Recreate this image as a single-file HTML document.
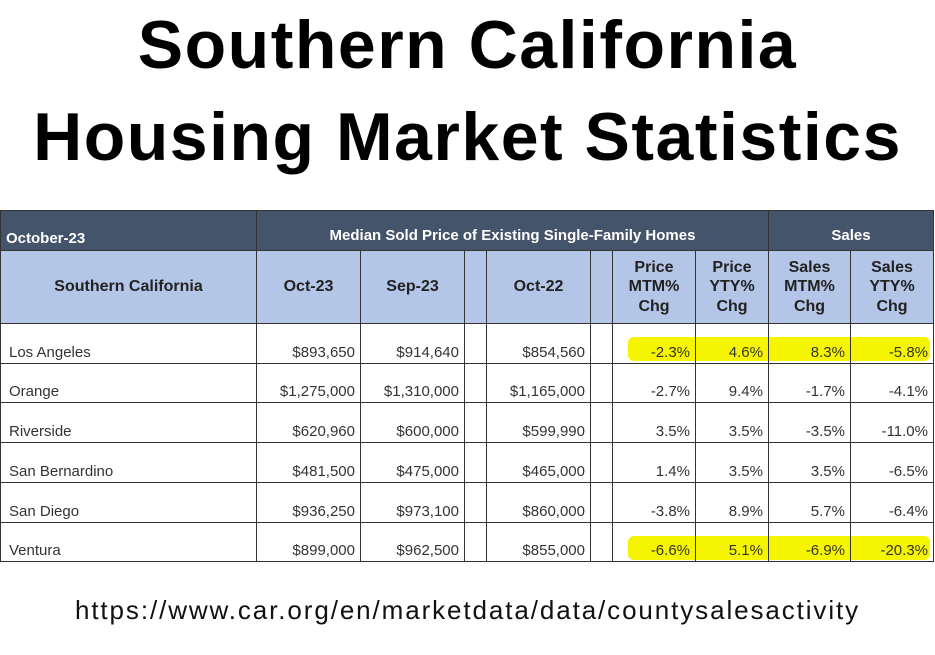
<!DOCTYPE html>
<html><head><meta charset="utf-8"><style>
body{margin:0;width:935px;height:655px;background:#fff;position:relative;overflow:hidden;font-family:"Liberation Sans",sans-serif}
.t{position:absolute;left:0;width:935px;text-align:center;font-weight:bold;font-size:68px;letter-spacing:1.5px;color:#000;line-height:1}
.c{position:absolute;box-sizing:border-box;border:1.5px solid #333;font-size:15px;color:#333}
.h{background:#b4c6e7;font-weight:bold;color:#222;display:flex;align-items:center;justify-content:center;text-align:center;font-size:16px;line-height:1.2}
.d{background:#44546a;color:#fff;font-weight:bold;font-size:15px;display:flex;align-items:flex-end;padding-bottom:3px}
.v{display:flex;align-items:flex-end;justify-content:flex-end;padding:0 5px 2px 0}
.hl{position:absolute;background:#f5f500;border-radius:6px}
</style></head><body>
<div class="t" style="top:11px">Southern California</div>
<div class="t" style="top:103px">Housing Market Statistics</div>
<div id="tbl"></div>
<div style="position:absolute;top:595px;left:0;width:935px;text-align:center;font-size:26px;letter-spacing:1.9px;color:#111">https://www.car.org/en/marketdata/data/countysalesactivity</div>
<script>
const regions=["Los Angeles","Orange","Riverside","San Bernardino","San Diego","Ventura"];
const oct23=["$893,650","$1,275,000","$620,960","$481,500","$936,250","$899,000"];
const sep23=["$914,640","$1,310,000","$600,000","$475,000","$973,100","$962,500"];
const oct22=["$854,560","$1,165,000","$599,990","$465,000","$860,000","$855,000"];
const priceMtm=["-2.3%","-2.7%","3.5%","1.4%","-3.8%","-6.6%"];
const priceYty=["4.6%","9.4%","3.5%","3.5%","8.9%","5.1%"];
const salesMtm=["8.3%","-1.7%","-3.5%","3.5%","5.7%","-6.9%"];
const salesYty=["-5.8%","-4.1%","-11.0%","-6.5%","-6.4%","-20.3%"];
const highlighted=[0,5];
const xs=[0,256,360,464,486,590,612,695,768,850,933];
const tbl=document.getElementById('tbl');
function cell(x0,x1,y0,y1,cls,html,name){const e=document.createElement('div');e.className='c '+cls;e.style.left=x0+'px';e.style.top=y0+'px';e.style.width=(x1-x0+1)+'px';e.style.height=(y1-y0+1)+'px';e.innerHTML=html;


tbl.appendChild(e);return e;}
highlighted.forEach(r=>{const y=323+r*39.7;const h=document.createElement('div');h.className='hl';h.style.left='628px';h.style.top=(y+14)+'px';h.style.width='302px';h.style.height='24px';


tbl.appendChild(h);});
cell(0,256,210,250,'d','<span style="padding-left:5px">October-23</span>','period-header');
cell(256,768,210,250,'d','<span style="width:100%;text-align:center;padding-bottom:3px">Median Sold Price of Existing Single-Family Homes</span>','price-group-header');
cell(768,933,210,250,'d','<span style="width:100%;text-align:center;padding-bottom:3px">Sales</span>','sales-group-header');
const heads=["Southern California","Oct-23","Sep-23","","Oct-22","","Price<br>MTM%<br>Chg","Price<br>YTY%<br>Chg","Sales<br>MTM%<br>Chg","Sales<br>YTY%<br>Chg"];
heads.forEach((t,i)=>cell(xs[i],xs[i+1],250,323,'h',t,'column-header'));
regions.forEach((r,k)=>{const y0=Math.round(323+k*39.7),y1=Math.round(323+(k+1)*39.7);
const vals=[r,oct23[k],sep23[k],"",oct22[k],"",priceMtm[k],priceYty[k],salesMtm[k],salesYty[k]];
vals.forEach((v,i)=>{const e=cell(xs[i],xs[i+1],y0,y1,'v',v,'table-cell');e.style.background=(i>=6&&highlighted.includes(k))?'transparent':'#fff';if(i==0){e.style.justifyContent='flex-start';e.style.paddingLeft='8px';}});});
</script>
</body></html>
